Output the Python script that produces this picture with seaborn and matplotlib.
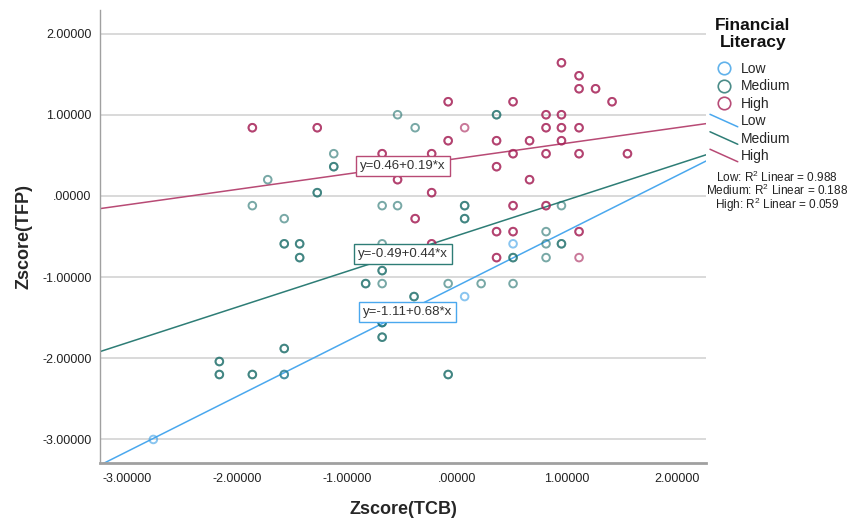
import numpy as np
import pandas as pd
import matplotlib
matplotlib.use("Agg")
import matplotlib.pyplot as plt
from matplotlib.lines import Line2D
from matplotlib.legend_handler import HandlerBase
from matplotlib.ticker import FuncFormatter
import seaborn as sns

# values (z-scores), n = cases drawn on the same spot
low_x = [-2.76, -1.57, -0.68, 0.07, 0.51]
low_y = [-3.00, -2.20, -1.56, -1.24, -0.59]
low_n = [1, 1, 1, 1, 1]

med_x = [-2.16, -2.16, -1.86, -1.57, -1.57, -1.86, -1.72, -1.57, -1.57, -1.43,
         -1.43, -1.27, -1.12, -1.12, -0.68, -0.54, -0.54, -0.38, -0.68, -0.68,
         -0.83, -0.68, -0.68, -0.68, -0.39, -0.08, -0.08, 0.22, 0.51, 0.07,
         0.07, 0.36, 0.51, 0.95, 0.81, 0.81, 0.81, 0.95]
med_y = [-2.04, -2.20, -2.20, -2.20, -1.88, -0.12, 0.20, -0.28, -0.59, -0.59,
         -0.76, 0.04, 0.52, 0.36, -0.12, -0.12, 1.00, 0.84, -0.59, -0.92,
         -1.08, -1.08, -1.56, -1.74, -1.24, -2.20, -1.08, -1.08, -1.08, -0.12,
         -0.28, 1.00, -0.76, -0.12, -0.44, -0.59, -0.76, -0.59]
med_n = [2, 2, 2, 1, 2, 1, 1, 1, 2, 2,
         2, 2, 1, 2, 1, 1, 1, 1, 1, 2,
         2, 1, 2, 2, 2, 2, 1, 1, 1, 2,
         2, 2, 2, 1, 1, 1, 1, 2]

high_x = [-1.86, -1.27, -0.68, -0.54, -0.23, -0.23, -0.23, -0.38, -0.08, -0.08,
          0.07, 0.36, 0.36, 0.36, 0.36, 0.51, 0.51, 0.51, 0.51, 0.66,
          0.66, 0.81, 0.81, 0.81, 0.81, 0.95, 0.95, 0.95, 0.95, 1.11,
          1.11, 1.11, 1.11, 1.11, 1.11, 1.26, 1.41, 1.55]
high_y = [0.84, 0.84, 0.52, 0.20, 0.52, 0.04, -0.59, -0.28, 1.16, 0.68,
          0.84, 0.68, 0.36, -0.44, -0.76, 1.16, 0.52, -0.12, -0.44, 0.68,
          0.20, 1.00, 0.84, 0.52, -0.12, 1.64, 1.00, 0.84, 0.68, 1.48,
          1.32, 0.84, 0.52, -0.44, -0.76, 1.32, 1.16, 0.52]
high_n = [2, 2, 2, 2, 2, 2, 2, 2, 2, 2,
          1, 2, 2, 2, 2, 2, 2, 2, 2, 2,
          2, 2, 2, 2, 2, 2, 2, 2, 2, 2,
          2, 2, 2, 2, 1, 2, 2, 2]

groups = ["Low", "Medium", "High"]
intercepts = [-1.11, -0.49, 0.46]
slopes = [0.68, 0.44, 0.19]
r_squared = [0.988, 0.188, 0.059]

point_colors = ["#3A9FE6", "#1E6F6B", "#A51F55"]
line_colors = ["#4AA8EE", "#2E7D76", "#B84A75"]

frames = []
for g, xs, ys, ns in [("Low", low_x, low_y, low_n), ("Medium", med_x, med_y, med_n),
                      ("High", high_x, high_y, high_n)]:
    frames.append(pd.DataFrame({"TCB": np.repeat(xs, ns), "TFP": np.repeat(ys, ns), "group": g}))
df = pd.concat(frames, ignore_index=True)

sns.set_theme(style="white")
plt.rcParams["font.family"] = ["Liberation Sans", "DejaVu Sans"]
plt.rcParams["mathtext.fontset"] = "custom"
plt.rcParams["mathtext.rm"] = "Liberation Sans"
plt.rcParams["mathtext.default"] = "regular"

fig = plt.figure(figsize=(8.48, 5.19), dpi=100)
ax = fig.add_axes([100 / 848, 56 / 519, 606 / 848, 453 / 519])

xmin, xmax = -3.245, 2.264
ymin, ymax = -3.29, 2.29

# fit lines, from the printed equations
line_x = np.array([xmin, xmax])
for a, b, col in zip(intercepts, slopes, line_colors):
    sns.lineplot(x=line_x, y=a + b * line_x, ax=ax, color=col, lw=1.1, zorder=2)

for g, col in zip(groups, point_colors):
    sub = df[df["group"] == g]
    sns.scatterplot(data=sub, x="TCB", y="TFP", ax=ax, color=col, facecolor="none",
                    edgecolor=col, marker="o", s=30, linewidth=1.4, alpha=0.6,
                    legend=False, zorder=3)

label_pos = [(-0.45, -1.43), (-0.49, -0.71), (-0.49, 0.37)]
for (lx, ly), a, b, col in zip(label_pos, intercepts, slopes, line_colors):
    ax.text(lx, ly, f"y={a:.2f}+{b:.2f}*x", ha="center", va="center", fontsize=9.5,
            color="#333333", zorder=5,
            bbox=dict(boxstyle="square,pad=0.3", fc="white", ec=col, lw=1))

ax.set_xlim(xmin, xmax)
ax.set_ylim(ymin, ymax)
ax.set_xticks([-3, -2, -1, 0, 1, 2])
ax.set_yticks([-3, -2, -1, 0, 1, 2])


def spss_fmt(v, pos):
    if abs(v) < 1e-9:
        return ".00000"
    return f"{v:.5f}"


ax.xaxis.set_major_formatter(FuncFormatter(spss_fmt))
ax.yaxis.set_major_formatter(FuncFormatter(spss_fmt))
ax.tick_params(length=0, labelsize=9, colors="#222222", pad=7)
ax.tick_params(axis="y", pad=6)
ax.yaxis.grid(True, color="#D3D3D3", lw=1.2)
ax.set_axisbelow(True)
for s in ["top", "right"]:
    ax.spines[s].set_visible(False)
ax.spines["left"].set_color("#A0A0A0")
ax.spines["left"].set_linewidth(1)
ax.spines["bottom"].set_color("#A0A0A0")
ax.spines["bottom"].set_linewidth(2)

ax.set_xlabel("Zscore(TCB)", fontsize=13, fontweight="bold", labelpad=12)
ax.set_ylabel("Zscore(TFP)", fontsize=13, fontweight="bold", labelpad=7)


class SlantLine(HandlerBase):
    def create_artists(self, legend, orig_handle, xdescent, ydescent, width, height, fontsize, trans):
        ln = Line2D([-xdescent, -xdescent + width], [height - ydescent + 1, -ydescent - 1],
                    color=orig_handle.get_color(), lw=orig_handle.get_linewidth(), transform=trans)
        return [ln]


# legend title drawn on its own so the gap to the entries matches
fig.text(753 / 848, 1 - 34 / 519, "Financial\nLiteracy", ha="center", va="center",
         multialignment="center", fontsize=12.5, fontweight="bold", color="#111111",
         linespacing=1.1)

dot_handles = [Line2D([], [], marker="o", ls="", mfc="none", mec=c, ms=9, mew=1.2, alpha=0.8)
               for c in point_colors]
line_handles = [Line2D([], [], color=c, lw=1.1) for c in line_colors]
leg = ax.legend(dot_handles + line_handles, groups + groups, loc="upper left",
                bbox_to_anchor=(710 / 848, 1 - 62 / 519), bbox_transform=fig.transFigure,
                frameon=False, fontsize=10,
                handlelength=2.0, handletextpad=0.25, labelspacing=0.25,
                borderpad=0, borderaxespad=0,
                handler_map={h: SlantLine() for h in line_handles})

r2_text = "\n".join(f"{g}: R$^2$ Linear = {r2:.3f}" for g, r2 in zip(groups, r_squared))
fig.text(777 / 848, 1 - 192 / 519, r2_text, ha="center", va="center", multialignment="center",
         fontsize=8.5, color="#222222", linespacing=0.85)

fig.savefig("out.png", dpi=100)
